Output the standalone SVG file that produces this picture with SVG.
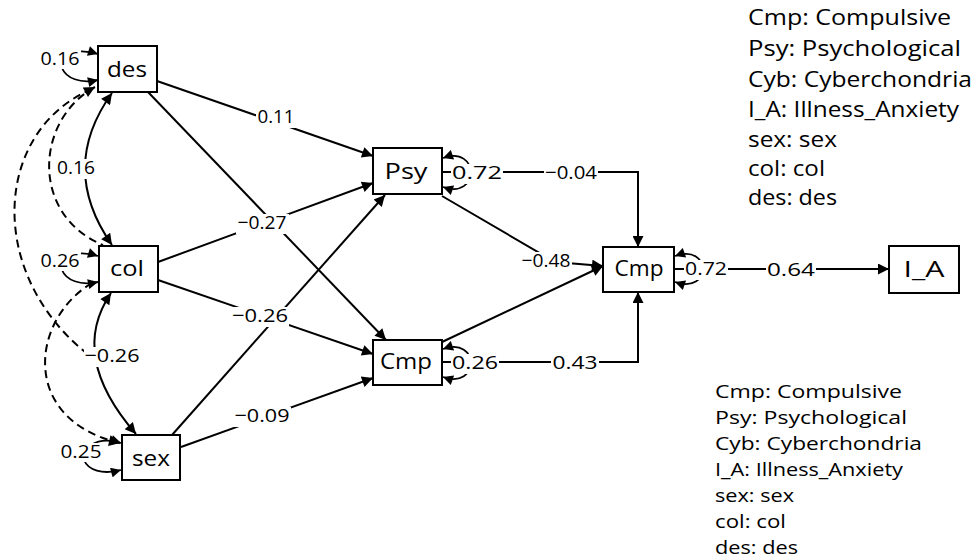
<svg xmlns="http://www.w3.org/2000/svg" width="977" height="559" viewBox="0 0 977 559">
  <style>
    .node rect { fill: #fff; stroke: #000; stroke-width: 2; }
    .node text { font-family: "Open Sans", "Liberation Sans", sans-serif; font-size: 22px; text-anchor: middle; fill: #000; }
    .edge { fill: none; stroke: #000; stroke-width: 2; }
    .arr { marker-end: url(#ah); }
    .both { marker-start: url(#ah); marker-end: url(#ah); }
    .loop { fill: none; stroke: #000; stroke-width: 1.8; marker-start: url(#ahs); marker-end: url(#ahs); }
    .dash { stroke-dasharray: 8 5; }
    .lbl rect { fill: #fff; }
    .lbl text { font-family: "Open Sans", "Liberation Sans", sans-serif; font-size: 19px; text-anchor: middle; fill: #000; }
    .legend text { font-family: "Open Sans", "Liberation Sans", sans-serif; fill: #000; }
    .lt text { font-size: 21.5px; }
    .lb text { font-size: 18px; }
  </style>
  <defs>
    <marker id="ah" viewBox="0 0 10 10" refX="10" refY="5" markerWidth="14" markerHeight="11" markerUnits="userSpaceOnUse" orient="auto-start-reverse">
      <path d="M0,0 L10,5 L0,10 z" fill="#000"/>
    </marker>
    <marker id="ahs" viewBox="0 0 10 10" refX="10" refY="5" markerWidth="12" markerHeight="10" markerUnits="userSpaceOnUse" orient="auto-start-reverse">
      <path d="M0,0 L10,5 L0,10 z" fill="#000"/>
    </marker>
  </defs>

  <rect width="977" height="559" fill="#fff"/>

  <!-- connectors -->
  <g id="connectors">
    <!-- regressions from exogenous variables -->
    <line class="edge arr" x1="157" y1="81" x2="373" y2="156"/>
    <line class="edge arr" x1="158" y1="262" x2="373" y2="183"/>
    <line class="edge arr" x1="172" y1="435" x2="385" y2="195"/>
    <line class="edge arr" x1="148" y1="92" x2="386" y2="340"/>
    <line class="edge arr" x1="158" y1="280" x2="373" y2="354"/>
    <line class="edge arr" x1="181" y1="447" x2="373" y2="378"/>

    <!-- mediators into Cmp -->
    <path class="edge arr" d="M442,196 L555,262 L603,266"/>
    <line class="edge arr" x1="442" y1="342" x2="603" y2="266"/>
    <path class="edge arr" d="M442,172 H638 V247"/>
    <path class="edge arr" d="M442,362 H638 V292"/>
    <line class="edge arr" x1="674" y1="269" x2="889" y2="269"/>

    <!-- covariances -->
    <path class="edge both" d="M112,93 Q58,168 112,245"/>
    <path class="edge both" d="M111,293 Q68,356 136,434"/>
    <path class="edge dash" d="M95,87 C35,120 30,215 103,245" marker-start="url(#ah)"/>
    <path class="edge dash" d="M92,89 C-5,130 -15,270 85,352"/>
    <path class="edge dash" d="M92,283 C30,320 20,420 120,443" marker-end="url(#ah)"/>

    <!-- residual variances -->
    <path class="loop" d="M98,54 C72,46 58,58 62,68 C66,78 80,84 98,80"/>
    <path class="loop" d="M98,256 C72,248 58,260 62,270 C66,280 80,286 98,282"/>
    <path class="loop" d="M121,443 C95,435 80,450 84,460 C88,470 102,475 121,470"/>
    <path class="loop" d="M443,158 C480,145 480,200 443,187"/>
    <path class="loop" d="M443,349 C480,336 480,390 443,377"/>
    <path class="loop" d="M675,256 C712,243 712,295 675,282"/>
  </g>

  <!-- edge labels -->
  <g id="edge-labels" class="lbl">
    <rect x="256" y="108" width="41" height="20"/><text x="276" y="123" textLength="37" lengthAdjust="spacingAndGlyphs">0.11</text>
    <rect x="236" y="214" width="53" height="20"/><text x="262" y="229" textLength="49" lengthAdjust="spacingAndGlyphs">−0.27</text>
    <rect x="55" y="159" width="42" height="20"/><text x="76" y="174" textLength="38" lengthAdjust="spacingAndGlyphs">0.16</text>
    <rect x="39" y="50" width="42" height="19"/><text x="60" y="65" textLength="39" lengthAdjust="spacingAndGlyphs">0.16</text>
    <rect x="39" y="252" width="42" height="19"/><text x="60" y="267" textLength="39" lengthAdjust="spacingAndGlyphs">0.26</text>
    <rect x="59" y="443" width="44" height="19"/><text x="81" y="458" textLength="41" lengthAdjust="spacingAndGlyphs">0.25</text>
    <rect x="84" y="347" width="57" height="20"/><text x="112" y="362" textLength="55" lengthAdjust="spacingAndGlyphs">−0.26</text>
    <rect x="231" y="307" width="58" height="20"/><text x="260" y="322" textLength="56" lengthAdjust="spacingAndGlyphs">−0.26</text>
    <rect x="234" y="407" width="57" height="20"/><text x="262" y="422" textLength="55" lengthAdjust="spacingAndGlyphs">−0.09</text>
    <rect x="451" y="164" width="52" height="20"/><text x="477" y="179" textLength="50" lengthAdjust="spacingAndGlyphs">0.72</text>
    <rect x="544" y="164" width="54" height="20"/><text x="571" y="179" textLength="52" lengthAdjust="spacingAndGlyphs">−0.04</text>
    <rect x="520" y="252" width="52" height="20"/><text x="546" y="267" textLength="49" lengthAdjust="spacingAndGlyphs">−0.48</text>
    <rect x="451" y="354" width="48" height="20"/><text x="475" y="369" textLength="46" lengthAdjust="spacingAndGlyphs">0.26</text>
    <rect x="551" y="354" width="48" height="20"/><text x="575" y="369" textLength="45" lengthAdjust="spacingAndGlyphs">0.43</text>
    <rect x="684" y="260" width="44" height="20"/><text x="706" y="275" textLength="42" lengthAdjust="spacingAndGlyphs">0.72</text>
    <rect x="766" y="261" width="50" height="20"/><text x="791" y="276" textLength="48" lengthAdjust="spacingAndGlyphs">0.64</text>
  </g>

  <!-- nodes -->
  <g id="node-des" class="node"><rect x="98" y="46" width="59" height="46"/><text x="127" y="77" textLength="40" lengthAdjust="spacingAndGlyphs">des</text></g>
  <g id="node-col" class="node"><rect x="99" y="246" width="59" height="46"/><text x="127" y="276" textLength="34" lengthAdjust="spacingAndGlyphs">col</text></g>
  <g id="node-sex" class="node"><rect x="122" y="435" width="58" height="45"/><text x="151" y="466" textLength="38" lengthAdjust="spacingAndGlyphs">sex</text></g>
  <g id="node-psy" class="node"><rect x="373" y="148" width="69" height="46"/><text x="406" y="179" textLength="43" lengthAdjust="spacingAndGlyphs">Psy</text></g>
  <g id="node-cmp-mid" class="node"><rect x="373" y="340" width="69" height="45"/><text x="406" y="369" textLength="52" lengthAdjust="spacingAndGlyphs">Cmp</text></g>
  <g id="node-cmp" class="node"><rect x="603" y="247" width="71" height="45"/><text x="639" y="276" textLength="49" lengthAdjust="spacingAndGlyphs">Cmp</text></g>
  <g id="node-ia" class="node"><rect x="889" y="246" width="70" height="47"/><text x="924" y="277" textLength="41" lengthAdjust="spacingAndGlyphs">I_A</text></g>

  <!-- abbreviation keys -->
  <g id="legend-top" class="legend lt">
    <text x="748" y="25" textLength="203" lengthAdjust="spacingAndGlyphs">Cmp: Compulsive</text>
    <text x="748" y="56" textLength="213" lengthAdjust="spacingAndGlyphs">Psy: Psychological</text>
    <text x="748" y="87" textLength="224" lengthAdjust="spacingAndGlyphs">Cyb: Cyberchondria</text>
    <text x="748" y="117" textLength="211" lengthAdjust="spacingAndGlyphs">I_A: Illness_Anxiety</text>
    <text x="748" y="147" textLength="89" lengthAdjust="spacingAndGlyphs">sex: sex</text>
    <text x="748" y="176" textLength="77" lengthAdjust="spacingAndGlyphs">col: col</text>
    <text x="748" y="205" textLength="89" lengthAdjust="spacingAndGlyphs">des: des</text>
  </g>
  <g id="legend-bottom" class="legend lb">
    <text x="715" y="398" textLength="187" lengthAdjust="spacingAndGlyphs">Cmp: Compulsive</text>
    <text x="715" y="424" textLength="192" lengthAdjust="spacingAndGlyphs">Psy: Psychological</text>
    <text x="715" y="450" textLength="207" lengthAdjust="spacingAndGlyphs">Cyb: Cyberchondria</text>
    <text x="715" y="476" textLength="188" lengthAdjust="spacingAndGlyphs">I_A: Illness_Anxiety</text>
    <text x="715" y="502" textLength="79" lengthAdjust="spacingAndGlyphs">sex: sex</text>
    <text x="715" y="528" textLength="71" lengthAdjust="spacingAndGlyphs">col: col</text>
    <text x="715" y="554" textLength="83" lengthAdjust="spacingAndGlyphs">des: des</text>
  </g>
</svg>
